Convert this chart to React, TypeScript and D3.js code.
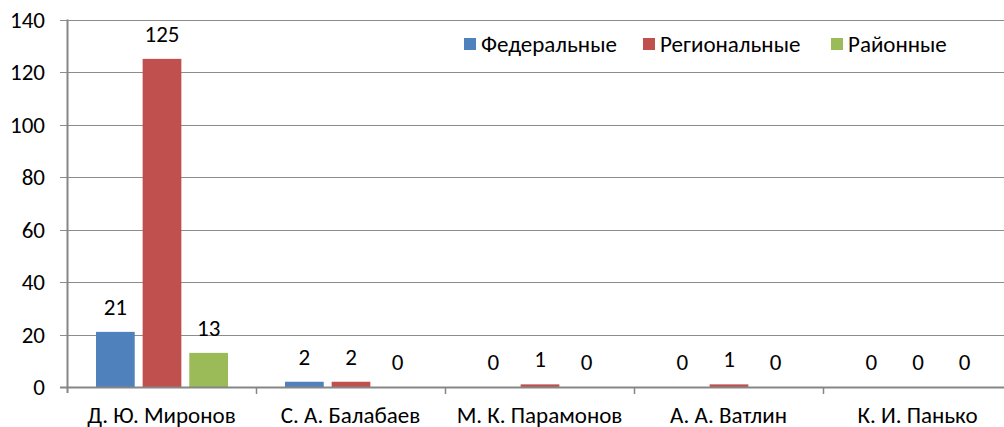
import { useEffect, useRef } from 'react'
import * as d3 from 'd3'

const candidates = ['Д. Ю. Миронов', 'С. А. Балабаев', 'М. К. Парамонов', 'А. А. Ватлин', 'К. И. Панько']
const seriesNames = ['Федеральные', 'Региональные', 'Районные']
const seriesColors = ['#4f81bd', '#c0504d', '#9bbb59']
const federal = [21, 2, 0, 0, 0]
const regional = [125, 2, 1, 1, 0]
const district = [13, 0, 0, 0, 0]
const yTicks = [0, 20, 40, 60, 80, 100, 120, 140]

export default function App() {
  const svgRef = useRef<SVGSVGElement>(null)

  useEffect(() => {
    if (!svgRef.current) return
    const W = 1004
    const H = 427
    const font = "Carlito, 'Open Sans', 'Noto Sans', sans-serif"
    const fs = '23px'

    d3.select(svgRef.current).selectAll('*').remove()
    const svg = d3.select(svgRef.current)
      .attr('width', W)
      .attr('height', H)
      .style('font-family', font)

    const values = [federal, regional, district]

    const x = d3.scaleBand()
      .domain(candidates)
      .range([67, 67 + 189 * 5])
      .padding(0)

    const inner = d3.scaleBand()
      .domain(seriesNames)
      .range([29, 161])
      .paddingInner(0.17)

    const y = d3.scaleLinear()
      .domain([0, 140])
      .range([387, 19.5])

    // gridlines
    svg.append('g')
      .selectAll('line')
      .data(yTicks)
      .join('line')
      .attr('x1', 60)
      .attr('x2', W)
      .attr('y1', d => Math.round(y(d)) + 0.5)
      .attr('y2', d => Math.round(y(d)) + 0.5)
      .attr('stroke', '#8c8c8c')
      .attr('stroke-width', 1)

    // y tick labels
    svg.append('g')
      .selectAll('text')
      .data(yTicks)
      .join('text')
      .attr('x', 45)
      .attr('y', d => y(d))
      .attr('text-anchor', 'end')
      .attr('dominant-baseline', 'central')
      .attr('font-size', fs)
      .attr('fill', '#000')
      .text(d => d)

    // bars
    const data = candidates.flatMap((c, i) =>
      seriesNames.map((s, j) => ({ c, s, j, v: values[j][i] })))

    svg.append('g')
      .selectAll('rect')
      .data(data)
      .join('rect')
      .attr('x', d => (x(d.c) || 0) + (inner(d.s) || 0))
      .attr('y', d => y(d.v))
      .attr('width', inner.bandwidth())
      .attr('height', d => y(0) - y(d.v))
      .attr('fill', d => seriesColors[d.j])

    // data labels
    svg.append('g')
      .selectAll('text')
      .data(data)
      .join('text')
      .attr('x', d => (x(d.c) || 0) + (inner(d.s) || 0) + inner.bandwidth() / 2)
      .attr('y', d => y(d.v) - 17)
      .attr('text-anchor', 'middle')
      .attr('font-size', fs)
      .attr('fill', '#000')
      .text(d => d.v)

    // axes lines
    svg.append('line')
      .attr('x1', 67.5).attr('x2', 67.5)
      .attr('y1', y(140)).attr('y2', 393)
      .attr('stroke', '#868686')
      .attr('stroke-width', 2)

    svg.append('line')
      .attr('x1', 60).attr('x2', W)
      .attr('y1', 387.5).attr('y2', 387.5)
      .attr('stroke', '#868686')
      .attr('stroke-width', 2)

    // category ticks
    svg.append('g')
      .selectAll('line')
      .data(candidates.slice(1))
      .join('line')
      .attr('x1', d => (x(d) || 0) + 0.5)
      .attr('x2', d => (x(d) || 0) + 0.5)
      .attr('y1', 387)
      .attr('y2', 394)
      .attr('stroke', '#868686')
      .attr('stroke-width', 1.5)

    // category labels
    svg.append('g')
      .selectAll('text')
      .data(candidates)
      .join('text')
      .attr('x', d => (x(d) || 0) + x.bandwidth() / 2)
      .attr('y', 423)
      .attr('text-anchor', 'middle')
      .attr('font-size', fs)
      .attr('fill', '#000')
      .text(d => d)

    // legend
    const legendX = [464, 643, 831]
    const legend = svg.append('g')
    seriesNames.forEach((s, i) => {
      legend.append('rect')
        .attr('x', legendX[i])
        .attr('y', 38)
        .attr('width', 12)
        .attr('height', 12)
        .attr('fill', seriesColors[i])
      legend.append('text')
        .attr('x', legendX[i] + 17)
        .attr('y', 44)
        .attr('dominant-baseline', 'central')
        .attr('font-size', fs)
        .attr('fill', '#000')
        .text(s)
    })
  }, [])

  return (
    <div style={{ position: 'fixed', left: 0, top: 0, background: '#fff' }}>
      <svg ref={svgRef}></svg>
    </div>
  )
}
